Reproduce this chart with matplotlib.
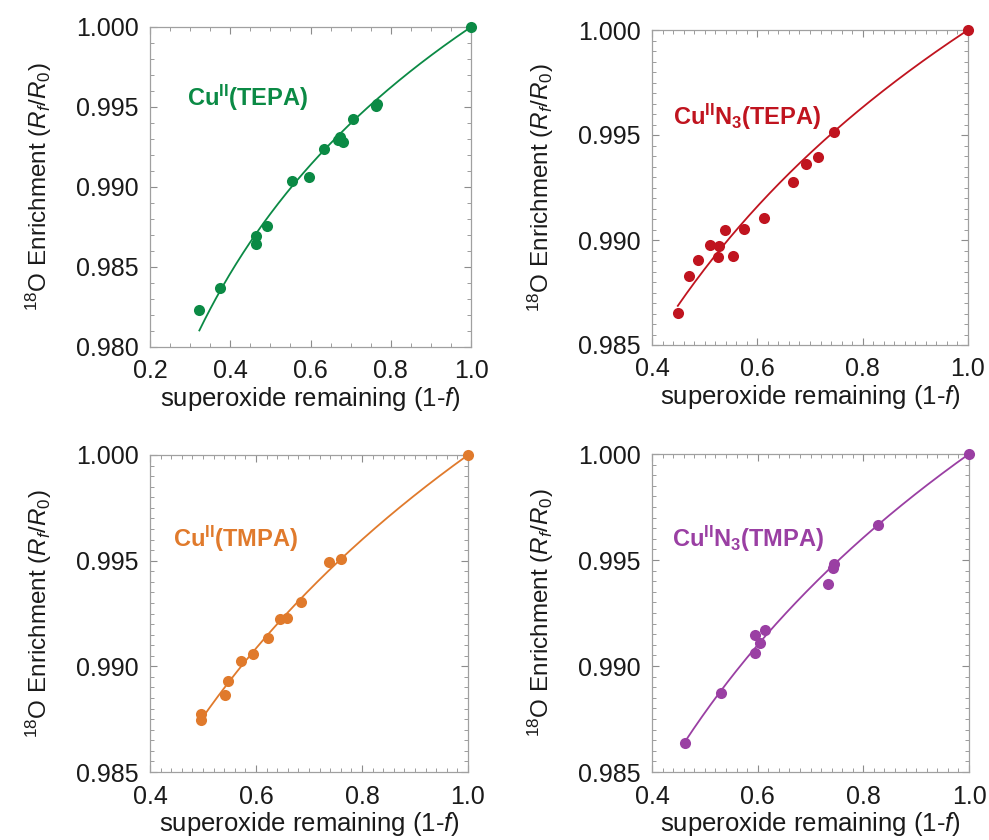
import matplotlib
matplotlib.use('Agg')
import matplotlib.pyplot as plt
from matplotlib.ticker import MultipleLocator
import numpy as np

plt.rcParams['font.family'] = ['Liberation Sans', 'DejaVu Sans']
plt.rcParams['mathtext.fontset'] = 'custom'
plt.rcParams['mathtext.rm'] = 'Liberation Sans'
plt.rcParams['mathtext.it'] = 'Liberation Sans:italic'
plt.rcParams['mathtext.bf'] = 'Liberation Sans:bold'

# superoxide remaining (1-f) and 18O enrichment Rf/R0
tepa_x = [1.0, 0.763, 0.765, 0.705, 0.674, 0.682, 0.668, 0.633, 0.597, 0.554,
          0.492, 0.465, 0.464, 0.375, 0.323]
tepa_y = [1.0, 0.99506, 0.99520, 0.99423, 0.99314, 0.99283, 0.99295, 0.99236, 0.99063, 0.99038,
          0.98758, 0.98696, 0.98644, 0.98369, 0.98231]

n3tepa_x = [1.0, 0.745, 0.716, 0.693, 0.667, 0.613, 0.574, 0.539, 0.553, 0.527,
            0.511, 0.525, 0.487, 0.471, 0.449]
n3tepa_y = [1.0, 0.99516, 0.99397, 0.99362, 0.99278, 0.99103, 0.99051, 0.99048, 0.98925, 0.98973,
            0.98976, 0.98921, 0.98905, 0.98830, 0.98651]

tmpa_x = [1.0, 0.760, 0.738, 0.684, 0.659, 0.645, 0.622, 0.595, 0.572, 0.548,
          0.542, 0.4955, 0.497]
tmpa_y = [1.0, 0.99508, 0.99492, 0.99306, 0.99230, 0.99225, 0.99135, 0.99056, 0.99024, 0.98932,
          0.98865, 0.98773, 0.98746]

n3tmpa_x = [1.0, 0.8276, 0.744, 0.742, 0.733, 0.613, 0.595, 0.605, 0.595, 0.531, 0.4625]
n3tmpa_y = [1.0, 0.99665, 0.99483, 0.99460, 0.99389, 0.99168, 0.99145, 0.99109, 0.99063,
            0.98874, 0.98638]

labels = [r'$\mathbf{Cu^{II}(TEPA)}$', r'$\mathbf{Cu^{II}N_3(TEPA)}$',
          r'$\mathbf{Cu^{II}(TMPA)}$', r'$\mathbf{Cu^{II}N_3(TMPA)}$']
colors = ['#0b8a45', '#c0141f', '#e07a2c', '#9a3fa3']

fig = plt.figure(figsize=(9.89, 8.4), dpi=100)
W, H = 989., 840.
# axes boxes in pixels: left, top, right, bottom
boxes = [(150, 27, 471, 347), (652, 30, 968, 345), (150, 455, 468, 772), (652, 454, 969, 772)]
xlims = [(0.2, 1.0), (0.4, 1.0), (0.4, 1.0), (0.4, 1.0)]
ylims = [(0.980, 1.000), (0.985, 1.000), (0.985, 1.000), (0.985, 1.000)]
xminor = [0.05, 0.02, 0.02, 0.02]
yminor = [0.001, 0.0005, 0.0005, 0.0005]
txtpos = [(0.114, 0.753), (0.066, 0.698), (0.073, 0.709), (0.064, 0.709)]
datasets = [(tepa_x, tepa_y), (n3tepa_x, n3tepa_y), (tmpa_x, tmpa_y), (n3tmpa_x, n3tmpa_y)]

for i, (xs, ys) in enumerate(datasets):
    l, t, r, b = boxes[i]
    ax = fig.add_axes([l / W, 1 - b / H, (r - l) / W, (b - t) / H])
    xs = np.array(xs)
    ys = np.array(ys)
    # Rayleigh fit: R/R0 = (1-f)^k
    lx = np.log(xs)
    ly = np.log(ys)
    k = np.sum(lx * ly) / np.sum(lx * lx)
    xx = np.linspace(xs.min(), 1.0, 200)
    ax.plot(xx, xx ** k, color=colors[i], lw=1.3, zorder=2)
    ax.plot(xs, ys, 'o', color=colors[i], ms=8, mec='none', zorder=3, clip_on=False)
    ax.set_xlim(*xlims[i])
    ax.set_ylim(*ylims[i])
    ax.xaxis.set_major_locator(MultipleLocator(0.2))
    ax.yaxis.set_major_locator(MultipleLocator(0.005))
    ax.xaxis.set_minor_locator(MultipleLocator(xminor[i]))
    ax.yaxis.set_minor_locator(MultipleLocator(yminor[i]))
    ax.xaxis.set_major_formatter(matplotlib.ticker.FormatStrFormatter('%.1f'))
    ax.yaxis.set_major_formatter(matplotlib.ticker.FormatStrFormatter('%.3f'))
    ax.tick_params(which='both', direction='in', top=True, right=True, color='#8c8c8c',
                   labelsize=18, labelcolor='#1a1a1a')
    ax.tick_params(axis='x', which='major', length=5, width=0.8, pad=9)
    ax.tick_params(axis='y', which='major', length=5, width=0.8, pad=8)
    ax.tick_params(which='minor', length=3, width=0.6)
    for s in ax.spines.values():
        s.set_color('#a0a0a0')
        s.set_linewidth(0.9)
    ax.set_xlabel('superoxide remaining (1-$f$)', fontsize=18.5, color='#1a1a1a', labelpad=1)
    ax.set_ylabel(r'$^{18}$O Enrichment ($R_f/R_0$)', fontsize=17.5, color='#1a1a1a', labelpad=16)
    ax.text(txtpos[i][0], txtpos[i][1], labels[i], transform=ax.transAxes, color=colors[i],
            fontsize=17, va='baseline', ha='left')

fig.savefig('out.png', dpi=100)
